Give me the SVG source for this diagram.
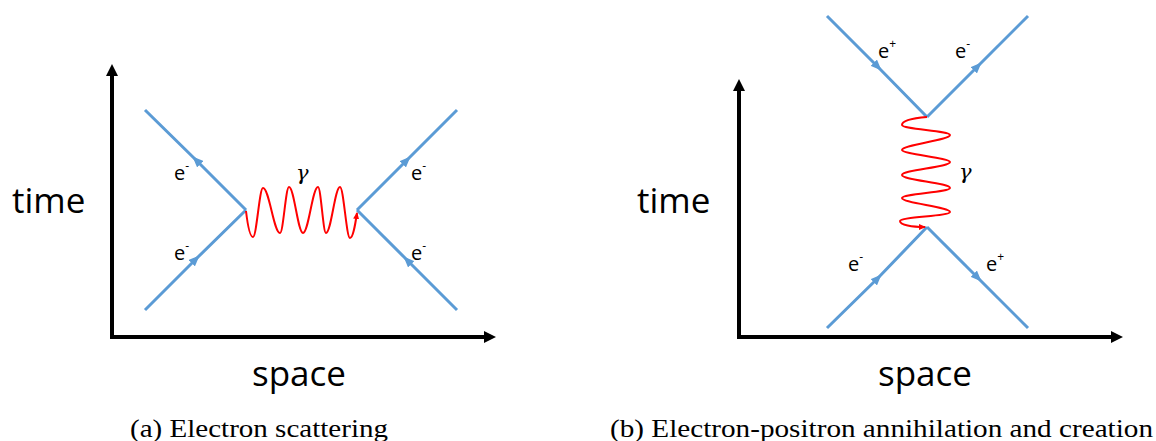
<svg xmlns="http://www.w3.org/2000/svg" width="1156" height="441" viewBox="0 0 1156 441">
<style>
.axis{stroke:#000;stroke-width:4;fill:none;marker-end:url(#axhead)}
.fermion{stroke:#5B9BD5;stroke-width:3;fill:none;marker-mid:url(#bhead)}
.photon{stroke:#FF0000;stroke-width:2;fill:none;marker-end:url(#rhead)}
.big{font-family:"Open Sans","Noto Sans",sans-serif;font-size:35px;fill:#000}
.lbl{font-family:"Open Sans","Noto Sans",sans-serif;font-size:20px;fill:#000}
.sup{font-size:12px}
.gam{font-family:"DejaVu Serif","Liberation Serif",serif;font-style:italic;font-size:21px;fill:#000}
.cap{font-family:"Liberation Serif","DejaVu Serif",serif;font-size:26px;fill:#000}
</style>
<defs>
<marker id="axhead" markerUnits="userSpaceOnUse" markerWidth="12" markerHeight="12" refX="2" refY="6" orient="auto"><path d="M0,0 L12,6 L0,12 z" fill="#000"/></marker>
<marker id="bhead" markerUnits="userSpaceOnUse" markerWidth="11" markerHeight="9" refX="6" refY="4.5" orient="auto"><path d="M0,0 L11,4.5 L0,9 z" fill="#5B9BD5"/></marker>
<marker id="rhead" markerUnits="userSpaceOnUse" markerWidth="7" markerHeight="6" refX="6" refY="3" orient="auto"><path d="M0,0 L7,3 L0,6 z" fill="#FF0000"/></marker>
</defs>

<g id="diagram-a">
  <g id="axes-a">
    <path class="axis" d="M112,339 L112,74"/>
    <path class="axis" d="M110,337 L486,337"/>
    <text class="big" x="12" y="213">time</text>
    <text class="big" x="252" y="386">space</text>
  </g>
  <g id="connectors-a">
    <path class="fermion" d="M246,210 L196,160 L145,110"/>
    <path class="fermion" d="M145,310 L196,259 L246,210"/>
    <path class="fermion" d="M357,210 L407,160 L457,110"/>
    <path class="fermion" d="M457,310 L407,260 L357,210"/>
    <path class="photon" d="M246,211 C248,228 250,237 253,237 C256.6,237 259.4,188 263,188 C269.2,188 273.8,233 280,233 C283.3,233 285.7,187 289,187 C294.1,187 297.9,233 303,233 C308.5,233 312.5,187 318,187 C320.9,187 323.1,233 326,233 C331.1,233 334.9,187 340,187 C343.6,187 346.4,238 350,238 C353,238 355,226 357,213"/>
  </g>
  <g id="labels-a">
    <text class="lbl" x="174" y="180">e<tspan class="sup" dy="-10">-</tspan></text>
    <text class="lbl" x="174" y="260">e<tspan class="sup" dy="-10">-</tspan></text>
    <text class="lbl" x="411" y="180">e<tspan class="sup" dy="-10">-</tspan></text>
    <text class="lbl" x="411" y="260">e<tspan class="sup" dy="-10">-</tspan></text>
    <text class="gam" x="296" y="180">γ</text>
  </g>
  <text id="caption-a" class="cap" x="130" y="437" textLength="258" lengthAdjust="spacingAndGlyphs">(a) Electron scattering</text>
</g>

<g id="diagram-b">
  <g id="axes-b">
    <path class="axis" d="M739,339 L739,89"/>
    <path class="axis" d="M737,337 L1113,337"/>
    <text class="big" x="637" y="213">time</text>
    <text class="big" x="878" y="386">space</text>
  </g>
  <g id="connectors-b">
    <path class="fermion" d="M827,16 L878,67 L927,117"/>
    <path class="fermion" d="M927,117 L978,66 L1028,16"/>
    <path class="fermion" d="M827,328 L878,278 L927,227"/>
    <path class="fermion" d="M927,227 L978,278 L1028,328"/>
    <path class="photon" d="M927,117 C915,118 902,120 902,125 C902,129 950,131 950,135 C950,140 902,145 902,150 C902,154 950,158 950,162 C950,167 902,170 902,175 C902,180 950,183 950,188 C950,192 902,194 902,198 C902,203 950,207 950,212 C950,216 900,217 900,221 C900,225 912,227 925,227"/>
  </g>
  <g id="labels-b">
    <text class="lbl" x="878" y="58">e<tspan class="sup" dy="-10">+</tspan></text>
    <text class="lbl" x="955" y="58">e<tspan class="sup" dy="-10">-</tspan></text>
    <text class="lbl" x="848" y="271">e<tspan class="sup" dy="-10">-</tspan></text>
    <text class="lbl" x="986" y="271">e<tspan class="sup" dy="-10">+</tspan></text>
    <text class="gam" x="959" y="179">γ</text>
  </g>
  <text id="caption-b" class="cap" x="610" y="437" textLength="543" lengthAdjust="spacingAndGlyphs">(b) Electron-positron annihilation and creation</text>
</g>
</svg>
